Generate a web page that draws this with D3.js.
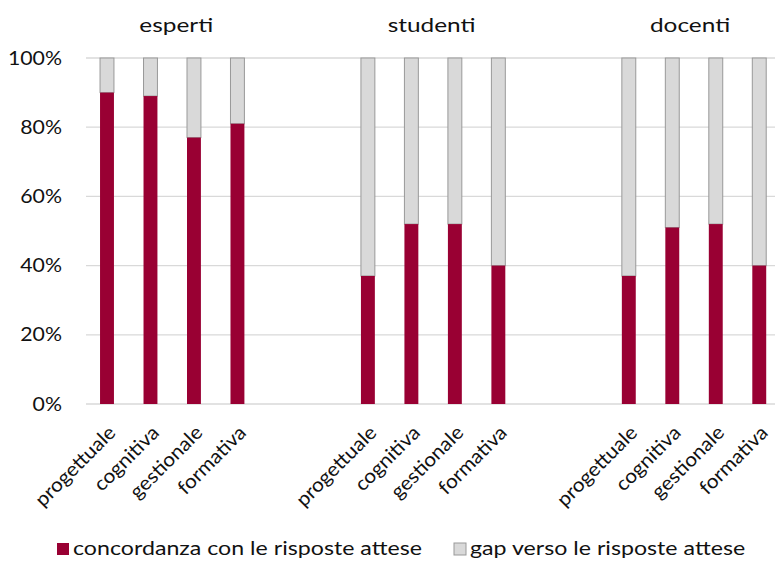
<!DOCTYPE html>
<html>
<head>
<meta charset="utf-8">
<script src="https://cdn.jsdelivr.net/npm/d3@7"></script>
<style>
  html, body { margin: 0; padding: 0; background: #fff; }
  svg { display: block; font-family: Lato, "Open Sans", sans-serif; }
</style>
</head>
<body>
<svg id="chart" width="775" height="562"></svg>
<script>
const groups = ["esperti", "studenti", "docenti"];
const categories = ["progettuale", "cognitiva", "gestionale", "formativa"];
const concordanza = [
  [90, 89, 77, 81],
  [37, 52, 52, 40],
  [37, 51, 52, 40]
];
const gap = [
  [10, 11, 23, 19],
  [63, 48, 48, 60],
  [63, 49, 48, 60]
];
const yTicks = [0, 20, 40, 60, 80, 100];
const seriesNames = ["concordanza con le risposte attese", "gap verso le risposte attese"];
const colors = ["#990033", "#d9d9d9"];

const svg = d3.select("#chart");
const plotLeft = 85.25, plotRight = 781, plotTop = 58, plotBottom = 404;
const textColor = "#111";

// slot keys: 4 categories per group, 2 empty slots between groups
const slots = [];
groups.forEach((g, gi) => {
  categories.forEach(c => slots.push(g + "|" + c));
  if (gi < groups.length - 1) { slots.push("_s" + gi + "a"); slots.push("_s" + gi + "b"); }
});

const x = d3.scaleBand().domain(slots).range([plotLeft, plotRight]).paddingInner(0.68).paddingOuter(0.34);
const y = d3.scaleLinear().domain([0, 100]).range([plotBottom, plotTop]);

// gridlines
svg.append("g").selectAll("line").data(yTicks).join("line")
  .attr("x1", 86).attr("x2", plotRight)
  .attr("y1", d => y(d)).attr("y2", d => y(d))
  .attr("stroke", "#d9d9d9").attr("stroke-width", 1.3);

// y axis labels
const yAxis = d3.axisLeft(y).tickValues(yTicks).tickFormat(d => d + "%").tickSize(0).tickPadding(0);
const ya = svg.append("g").attr("transform", `translate(62,0)`).call(yAxis);
ya.select(".domain").remove();
ya.selectAll(".tick text")
  .attr("x", 0)
  .attr("transform", "scale(1.12,1)")
  .attr("font-size", 19).attr("fill", textColor).attr("font-family", "Lato, sans-serif");

// bars
const rows = [];
groups.forEach((g, gi) => categories.forEach((c, ci) => {
  rows.push({ key: g + "|" + c, v0: concordanza[gi][ci], v1: gap[gi][ci] });
}));

const bars = svg.append("g");
bars.selectAll("rect.gap").data(rows).join("rect").attr("class", "gap")
  .attr("x", d => x(d.key)).attr("width", x.bandwidth())
  .attr("y", d => y(d.v0 + d.v1)).attr("height", d => y(d.v0) - y(d.v0 + d.v1))
  .attr("fill", colors[1]).attr("stroke", "#999").attr("stroke-width", 1);
bars.selectAll("rect.conc").data(rows).join("rect").attr("class", "conc")
  .attr("x", d => x(d.key)).attr("width", x.bandwidth())
  .attr("y", d => y(d.v0)).attr("height", d => y(0) - y(d.v0))
  .attr("fill", colors[0]);

// category labels (rotated)
svg.append("g").selectAll("text").data(rows).join("text")
  .attr("transform", d => `translate(${x(d.key) + x.bandwidth() / 2 + 5},${plotBottom + 25}) rotate(-45) scale(1.07,1)`)
  .attr("text-anchor", "end")
  .attr("dy", "0.35em")
  .attr("font-size", 19.5).attr("fill", textColor)
  .text(d => d.key.split("|")[1]);

// group titles
const titleShift = [4, -1.5, -4];
svg.append("g").selectAll("text").data(groups).join("text")
  .attr("transform", (g, i) => {
    const cx = (x(g + "|" + categories[0]) + x(g + "|" + categories[3]) + x.bandwidth()) / 2 + titleShift[i];
    return `translate(${cx},32) scale(1.22,1)`;
  })
  .attr("text-anchor", "middle")
  .attr("font-size", 20).attr("fill", textColor)
  .text(g => g);

// legend
const legendX = [57, 454];
const lg = svg.append("g");
seriesNames.forEach((s, i) => {
  lg.append("rect").attr("x", legendX[i]).attr("y", 543).attr("width", 12).attr("height", 12)
    .attr("fill", colors[i]).attr("stroke", i === 1 ? "#999" : "none");
  lg.append("text").attr("transform", `translate(${legendX[i] + 16},555) scale(1.22,1)`)
    .attr("font-size", 19).attr("fill", textColor).text(s);
});
</script>
</body>
</html>
